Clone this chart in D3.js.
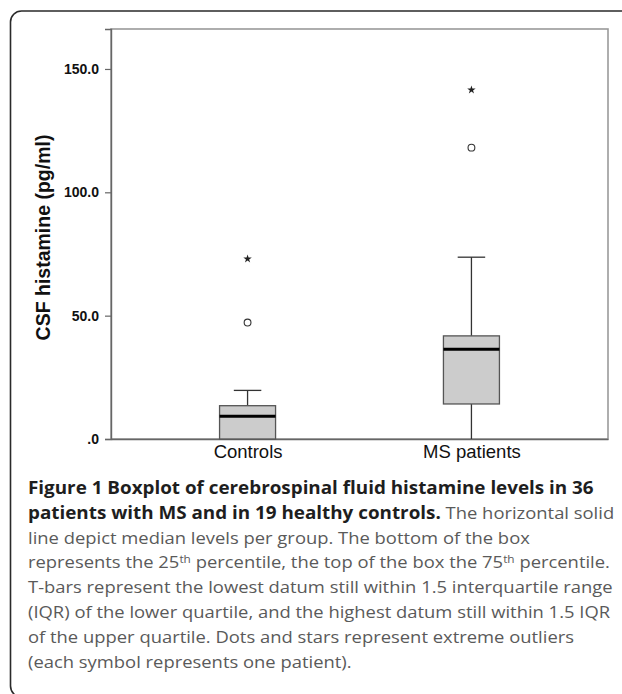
<!DOCTYPE html>
<html>
<head>
<meta charset="utf-8">
<script src="https://cdn.jsdelivr.net/npm/d3@7"></script>
<style>
body { margin: 0; background: #fff; }
svg { display: block; }
</style>
</head>
<body>
<div id="chart"></div>
<script>
// box plot values (pg/ml)
var groups = ["Controls", "MS patients"];
var q1 = [0, 14.2];
var median = [9.2, 36.4];
var q3 = [13.5, 41.8];
var whiskLo = [0, 0];
var whiskHi = [19.7, 73.7];
var circleOut = [47.2, 118.1];
var starOut = [73.0, 141.5];
var yTicks = [0, 50, 100, 150];
var yTitle = "CSF histamine (pg/ml)";

var captionLines = [
	[{t: "Figure 1 Boxplot of cerebrospinal fluid histamine levels in 36", b: true}],
	[{t: "patients with MS and in 19 healthy controls.", b: true}, {t: " The horizontal solid"}],
	[{t: "line depict median levels per group. The bottom of the box"}],
	[{t: "represents the 25"}, {t: "th", sup: true}, {t: " percentile, the top of the box the 75"}, {t: "th", sup: true}, {t: " percentile."}],
	[{t: "T-bars represent the lowest datum still within 1.5 interquartile range"}],
	[{t: "(IQR) of the lower quartile, and the highest datum still within 1.5 IQR"}],
	[{t: "of the upper quartile. Dots and stars represent extreme outliers"}],
	[{t: "(each symbol represents one patient)."}]
];

var width = 622, height = 694;
var mLeft = 111, mRight = 608, mTop = 29, mBottom = 439;

var svg = d3.select("#chart").append("svg").attr("width", width).attr("height", height);

// rounded frame, runs off the right and bottom edge
svg.append("rect").attr("x", 10.5).attr("y", 11).attr("width", 700).attr("height", 686)
	.attr("rx", 11).attr("fill", "none").attr("stroke", "#2a2a2a").attr("stroke-width", 1.6);

var x = d3.scalePoint().domain(groups).range([mLeft, mRight]).padding(0.61);
var y = d3.scaleLinear().domain([0, 166.2]).range([mBottom, mTop]);

// plot frame
svg.append("rect").attr("x", mLeft).attr("y", mTop).attr("width", mRight - mLeft).attr("height", mBottom - mTop)
	.attr("fill", "none").attr("stroke", "#9a9a9a").attr("stroke-width", 1.6);

var yAxis = d3.axisLeft(y).tickValues(yTicks).tickSize(6).tickPadding(6)
	.tickFormat(function(d){ return d === 0 ? ".0" : d3.format(".1f")(d); });
var gy = svg.append("g").attr("transform", "translate(" + mLeft + ",0)").call(yAxis);
gy.select(".domain").attr("stroke", "#666").attr("stroke-width", 1.4);
gy.selectAll(".tick line").attr("stroke", "#666").attr("stroke-width", 1.2);
gy.selectAll(".tick text").attr("fill", "#111").style("font-family", "'Liberation Sans', Arial, sans-serif")
	.style("font-size", "14px").style("font-weight", "bold");

var xAxis = d3.axisBottom(x).tickSize(0).tickPadding(8);
var gx = svg.append("g").attr("transform", "translate(0," + mBottom + ")").call(xAxis);
gx.select(".domain").attr("stroke", "#666").attr("stroke-width", 1.4);
gx.selectAll(".tick text").attr("fill", "#111").attr("dy", null).attr("y", 18.5)
	.style("font-family", "'Liberation Sans', Arial, sans-serif").style("font-size", "18.5px");

svg.append("text").attr("transform", "translate(50,237.5) rotate(-90)")
	.attr("text-anchor", "middle").attr("fill", "#111")
	.style("font-family", "'Liberation Sans', Arial, sans-serif").style("font-size", "19.5px").style("font-weight", "bold")
	.text(yTitle);

var boxW = 56, capW = 27.5;
var rows = groups.map(function(g, i) {
	return {g: g, q1: q1[i], med: median[i], q3: q3[i], lo: whiskLo[i], hi: whiskHi[i], c: circleOut[i], s: starOut[i]};
});

var box = svg.selectAll(".box").data(rows).enter().append("g").attr("class", "box");
// whiskers
box.append("line").attr("x1", function(d){ return x(d.g); }).attr("x2", function(d){ return x(d.g); })
	.attr("y1", function(d){ return y(d.q3); }).attr("y2", function(d){ return y(d.hi); })
	.attr("stroke", "#333").attr("stroke-width", 1.3);
box.append("line").attr("x1", function(d){ return x(d.g); }).attr("x2", function(d){ return x(d.g); })
	.attr("y1", function(d){ return y(d.q1); }).attr("y2", function(d){ return y(d.lo); })
	.attr("stroke", "#333").attr("stroke-width", 1.3);
box.append("line").attr("x1", function(d){ return x(d.g) - capW / 2; }).attr("x2", function(d){ return x(d.g) + capW / 2; })
	.attr("y1", function(d){ return y(d.hi); }).attr("y2", function(d){ return y(d.hi); })
	.attr("stroke", "#333").attr("stroke-width", 1.3);
box.append("rect").attr("x", function(d){ return x(d.g) - boxW / 2; }).attr("width", boxW)
	.attr("y", function(d){ return y(d.q3); }).attr("height", function(d){ return y(d.q1) - y(d.q3); })
	.attr("fill", "#cccccc").attr("stroke", "#555").attr("stroke-width", 1.3);
box.append("line").attr("x1", function(d){ return x(d.g) - boxW / 2; }).attr("x2", function(d){ return x(d.g) + boxW / 2; })
	.attr("y1", function(d){ return y(d.med); }).attr("y2", function(d){ return y(d.med); })
	.attr("stroke", "#000").attr("stroke-width", 3);
box.append("circle").attr("cx", function(d){ return x(d.g); }).attr("cy", function(d){ return y(d.c); })
	.attr("r", 3.4).attr("fill", "#fff").attr("stroke", "#333").attr("stroke-width", 1.1);
box.append("path").attr("d", d3.symbol().type(d3.symbolStar).size(22))
	.attr("transform", function(d){ return "translate(" + x(d.g) + "," + y(d.s) + ")"; })
	.attr("fill", "#222");

// caption
var cap = svg.append("g").attr("class", "caption");
var ct = cap.selectAll("text").data(captionLines).enter().append("text")
	.attr("x", 0).attr("y", function(d, i){ return i * 24.8; })
	.style("font-family", "'Open Sans', sans-serif").style("font-size", "17.5px");
var spans = ct.selectAll("tspan").data(function(d){ return d; }).enter().append("tspan")
	.attr("fill", function(d){ return d.b ? "#1e1e1e" : "#5a5a5a"; })
	.style("font-weight", function(d){ return d.b ? "bold" : "normal"; })
	.style("font-size", function(d){ return d.sup ? "11px" : null; })
	.attr("baseline-shift", function(d){ return d.sup ? "55%" : null; })
	.text(function(d){ return d.t; });
var sx = 566 / ct.nodes()[0].getComputedTextLength();
// regular text in the source face is a little narrower than the bold
var fReg = 17.5 * (585 / sx) / ct.nodes()[4].getComputedTextLength();
spans.filter(function(d){ return !d.b && !d.sup; }).style("font-size", fReg + "px");
cap.attr("transform", "translate(28,494) scale(" + sx + ",1)");
</script>
</body>
</html>
